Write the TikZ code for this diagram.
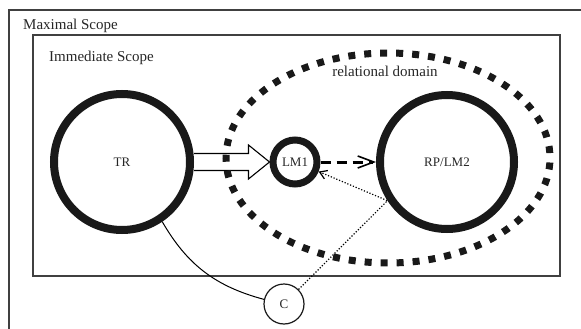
\documentclass[tikz,border=0pt]{standalone}
\usepackage{fontspec}
\setmainfont{Liberation Serif}
\usetikzlibrary{arrows.meta}

\begin{document}
\begin{tikzpicture}[x=1pt, y=-1pt, font=\fontsize{15}{18}\selectfont, text=black!85,
    scopebox/.style={draw=black!75, line width=1.5pt},
    lbl/.style={inner sep=0pt},
    ring/.style={circle, draw=black!90, inner sep=0pt, font=\fontsize{13}{15}\selectfont}]
    \useasboundingbox (0,0) rectangle (581,329);
    \clip (0,0) rectangle (581,329);
    \draw[scopebox] (9,10) rectangle (600,350);
    \draw[scopebox] (33,35) rectangle (560,276);
    \node[lbl, anchor=base west] (maxlbl) at (23,30) {Maximal Scope};
    \node[lbl, anchor=base west] (immlbl) at (49,62) {Immediate Scope};
    \node[lbl, anchor=base] (rellbl) at (385,77) {relational domain};
    \node[ring, line width=8pt, minimum size=136pt] (TR) at (122,162) {TR};
    \node[ring, line width=7pt, minimum size=44pt] (LM1) at (295,162) {LM1};
    \node[ring, line width=8pt, minimum size=134pt] (RP) at (447,162) {RP/LM2};
    \node[ring, line width=1.2pt, minimum size=40pt] (C) at (284,304) {C};
    \draw[line width=1.1pt] ([yshift=-8.5pt]TR.east) -- ([xshift=-21pt, yshift=-8.5pt]LM1.west)
        -- ([xshift=-21pt, yshift=-17pt]LM1.west) -- (LM1.west)
        -- ([xshift=-21pt, yshift=17pt]LM1.west) -- ([xshift=-21pt, yshift=8.5pt]LM1.west)
        -- ([yshift=8.5pt]TR.east);
    \draw[black!90, line width=7pt, dash pattern=on 7pt off 9pt, dash phase=11.5pt] (388,158) ellipse [x radius=162, y radius=105];
    \draw[line width=3pt, dash pattern=on 10pt off 6pt,
        -{Straight Barb[length=16pt, width=12pt, line width=1.6pt]}] (LM1.east) -- (RP.west);
    \draw[line width=1.2pt, dash pattern=on 1.2pt off 1.8pt,
        -{Straight Barb[length=7pt, width=9pt, line width=1.2pt]}] (C.45) -- (RP.213) -- (LM1.-22);
    \draw[line width=1pt] (TR.-56) to[out=-60, in=165] (C.167);
\end{tikzpicture}
\end{document}
